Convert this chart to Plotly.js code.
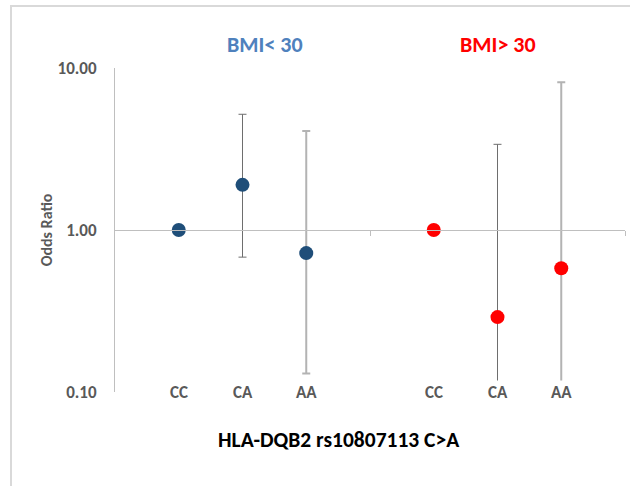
<!DOCTYPE html>
<html>
<head>
<meta charset="utf-8">
<script src="https://cdn.plot.ly/plotly-3.0.1.min.js"></script>
<style>
  html, body { margin: 0; padding: 0; background: #fff; }
  #wrap { position: relative; width: 630px; height: 486px; overflow: hidden; }
  #chart { position: absolute; left: 0; top: 0; width: 630px; height: 486px; }
  #frame { position: absolute; left: 10px; top: 5px; width: 640px; height: 500px;
           border-left: 2px solid #d9d9d9; border-top: 2px solid #d9d9d9; pointer-events: none; }
</style>
</head>
<body>
<div id="wrap">
  <div id="chart"></div>
  <div id="frame"></div>
</div>
<script>
// ---- data ----
var genotypes = ["CC", "CA", "AA"];
var groupLabels = ["BMI< 30", "BMI> 30"];
var orLow   = [1.00, 1.90, 0.72];   // BMI < 30 odds ratios
var ciLowLo = [null, 0.68, 0.13];
var ciLowHi = [null, 5.18, 4.08];
var orHigh   = [1.00, 0.29, 0.58];  // BMI > 30 odds ratios
var ciHighLo = [null, 0.025, 0.04];
var ciHighHi = [null, 3.38, 8.16];
var yTicks = [0.1, 1, 10];
var yTickText = ["0.10", "1.00", "10.00"];

// ---- styling ----
var FONT = "Carlito, 'Liberation Sans', Arial, sans-serif";
var groupColors = ["#1f4e79", "#ff0000"];
var groupTitleColors = ["#4f81bd", "#ff0000"];
var groupOffsets = [1, 5];
var titleX = [2.35, 6.0];
var errStyles = [null, {color: "#6e6e6e", thickness: 1}, {color: "#b3b3b3", thickness: 2}];

var groups = [
  {or: orLow, lo: ciLowLo, hi: ciLowHi},
  {or: orHigh, lo: ciHighLo, hi: ciHighHi}
];

var traces = [];
var annotations = [];
groups.forEach(function (g, gi) {
  genotypes.forEach(function (gt, i) {
    var xv = groupOffsets[gi] + i;
    var t = {
      type: "scatter", mode: "markers",
      x: [xv], y: [g.or[i]],
      marker: {size: 14, color: groupColors[gi], line: {width: 0}},
      hoverinfo: "skip", showlegend: false, cliponaxis: true
    };
    if (g.hi[i] !== null) {
      t.error_y = {
        type: "data", symmetric: false,
        array: [g.hi[i] - g.or[i]],
        arrayminus: [g.or[i] - g.lo[i]],
        color: errStyles[i].color, thickness: errStyles[i].thickness, width: 4
      };
    }
    traces.push(t);
    annotations.push({
      x: xv, xref: "x", y: 0, yref: "paper", yanchor: "middle",
      text: gt, showarrow: false, bgcolor: "#ffffff",
      font: {family: FONT, size: 17, color: "#595959", weight: "bold"}
    });
  });
  annotations.push({
    x: titleX[gi], xref: "x", y: 1.071, yref: "paper", yanchor: "middle",
    text: groupLabels[gi], showarrow: false,
    font: {family: FONT, size: 22, color: groupTitleColors[gi], weight: "bold"}
  });
});

annotations.push({
  x: 0.44, xref: "paper", y: -0.148, yref: "paper", yanchor: "middle",
  text: "HLA-DQB2 rs10807113 C&gt;A", showarrow: false,
  font: {family: FONT, size: 21.5, color: "#000000", weight: "bold"}
});

var layout = {
  width: 630, height: 486,
  margin: {l: 115, r: 5, t: 68, b: 94, pad: 0},
  paper_bgcolor: "#ffffff", plot_bgcolor: "#ffffff",
  font: {family: FONT},
  showlegend: false,
  xaxis: {
    range: [0, 8], anchor: "free", position: 0.5,
    showline: true, linecolor: "#bfbfbf", linewidth: 1,
    showgrid: false, zeroline: false,
    ticks: "outside", tickvals: [4, 8], ticklen: 5, tickcolor: "#bfbfbf",
    showticklabels: false, fixedrange: true
  },
  yaxis: {
    type: "log", range: [-1, 1],
    showline: true, linecolor: "#bfbfbf", linewidth: 1,
    showgrid: false, zeroline: false, ticks: "",
    tickvals: yTicks, ticktext: yTickText,
    ticklabelstandoff: 14,
    tickfont: {family: FONT, size: 17, color: "#595959", weight: "bold"},
    title: {text: "Odds Ratio", standoff: 0,
            font: {family: FONT, size: 16, color: "#595959", weight: "bold"}},
    fixedrange: true
  },
  annotations: annotations
};

Plotly.newPlot("chart", traces, layout, {displayModeBar: false, staticPlot: true});
</script>
</body>
</html>
